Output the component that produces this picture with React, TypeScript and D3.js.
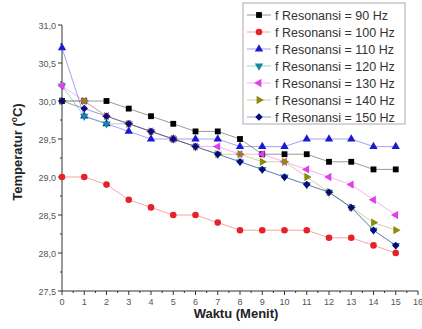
import React from 'react';
import * as d3 from 'd3';

const minutes = d3.range(0, 16);

const labels = [
  'f Resonansi = 90 Hz',
  'f Resonansi = 100 Hz',
  'f Resonansi = 110 Hz',
  'f Resonansi = 120 Hz',
  'f Resonansi = 130 Hz',
  'f Resonansi = 140 Hz',
  'f Resonansi = 150 Hz',
];

const hz90 = [30.0, 30.0, 30.0, 29.9, 29.8, 29.7, 29.6, 29.6, 29.5, 29.3, 29.3, 29.3, 29.2, 29.2, 29.1, 29.1];
const hz100 = [29.0, 29.0, 28.9, 28.7, 28.6, 28.5, 28.5, 28.4, 28.3, 28.3, 28.3, 28.3, 28.2, 28.2, 28.1, 28.0];
const hz110 = [30.7, 29.8, 29.7, 29.6, 29.5, 29.5, 29.5, 29.5, 29.4, 29.4, 29.4, 29.5, 29.5, 29.5, 29.4, 29.4];
const hz120 = [30.2, 29.8, 29.7, 29.7, 29.6, 29.5, 29.4, 29.3, 29.2, 29.1, 29.0, 28.9, 28.8, 28.6, 28.3, 28.1];
const hz130 = [30.2, 30.0, 29.8, 29.7, 29.6, 29.5, 29.4, 29.4, 29.3, 29.3, 29.2, 29.1, 29.0, 28.9, 28.7, 28.5];
const hz140 = [30.0, 30.0, 29.8, 29.7, 29.6, 29.5, 29.4, 29.3, 29.3, 29.2, 29.2, 29.0, 28.8, 28.6, 28.4, 28.3];
const hz150 = [30.0, 29.9, 29.8, 29.7, 29.6, 29.5, 29.4, 29.3, 29.2, 29.1, 29.0, 28.9, 28.8, 28.6, 28.3, 28.1];

const seriesValues = [hz90, hz100, hz110, hz120, hz130, hz140, hz150];
const colors = ['#000000', '#e8202a', '#1a1ad0', '#138a9a', '#e040e8', '#8a8a10', '#0a0a80'];

const yTicks = [27.5, 28.0, 28.5, 29.0, 29.5, 30.0, 30.5, 31.0];
const xTicks = d3.range(0, 17);

// marker shape per series: symbol type + rotation + area
const markers: [d3.SymbolType, number, number][] = [
  [d3.symbolSquare, 0, 34],
  [d3.symbolCircle, 0, 34],
  [d3.symbolTriangle, 0, 30],
  [d3.symbolTriangle, 180, 30],
  [d3.symbolTriangle, -90, 30],
  [d3.symbolTriangle, 90, 30],
  [d3.symbolSquare, 45, 28],
];

const W = 422;
const H = 329;
const margin = { top: 25, right: 4, bottom: 38, left: 62 };

export default function App() {
  const x = d3.scaleLinear().domain([0, 16]).range([margin.left, W - margin.right]);
  const y = d3.scaleLinear().domain([27.5, 31]).range([H - margin.bottom, margin.top]);

  const line = d3
    .line<number>()
    .x((_, i) => x(minutes[i]))
    .y((d) => y(d));

  const fmt = (v: number) => v.toFixed(1).replace('.', ',');
  const font = '"Liberation Sans", Arial, sans-serif';
  const y0 = y(27.5);

  return (
    <svg
      width={W}
      height={H}
      style={{ position: 'absolute', left: 0, top: 0, background: '#fff' }}
      fontFamily={font}
    >
      {/* axes */}
      <line x1={x(0)} x2={x(0)} y1={y(31)} y2={y0} stroke="#333" strokeWidth={1} />
      <line x1={x(0)} x2={x(16)} y1={y0} y2={y0} stroke="#333" strokeWidth={1} />

      {yTicks.map((t) => (
        <g key={'y' + t}>
          <line x1={x(0) - 4} x2={x(0)} y1={y(t)} y2={y(t)} stroke="#333" />
          <text x={x(0) - 6} y={y(t) + 3.5} fontSize={9} fill="#555" textAnchor="end">
            {fmt(t)}
          </text>
        </g>
      ))}
      {yTicks.slice(0, -1).map((t) => (
        <line key={'ym' + t} x1={x(0) - 2} x2={x(0)} y1={y(t + 0.25)} y2={y(t + 0.25)} stroke="#333" />
      ))}

      {xTicks.map((t) => (
        <g key={'x' + t}>
          <line x1={x(t)} x2={x(t)} y1={y0} y2={y0 + 4} stroke="#333" />
          <text x={x(t)} y={y0 + 14} fontSize={9} fill="#555" textAnchor="middle">
            {t}
          </text>
        </g>
      ))}
      {xTicks.slice(0, -1).map((t) => (
        <line key={'xm' + t} x1={x(t + 0.5)} x2={x(t + 0.5)} y1={y0} y2={y0 + 2} stroke="#333" />
      ))}

      <text x={x(8) - 4} y={318} fontSize={13} fontWeight="bold" fill="#222" textAnchor="middle">
        Waktu (Menit)
      </text>
      <text
        transform={`translate(22, 152) rotate(-90)`}
        fontSize={13}
        fontWeight="bold"
        fill="#222"
        textAnchor="middle"
      >
        Temperatur (
        <tspan fontSize={8.5} dy={-5}>o</tspan>
        <tspan dy={5}>C)</tspan>
      </text>

      {/* lines */}
      {seriesValues.map((vals, s) => (
        <path
          key={'l' + s}
          d={line(vals) || ''}
          fill="none"
          stroke={colors[s]}
          strokeOpacity={0.4}
          strokeWidth={1}
        />
      ))}

      {/* markers */}
      {seriesValues.map((vals, s) => {
        const [type, rot, size] = markers[s];
        const path = d3.symbol(type, size)() || '';
        return (
          <g key={'m' + s} fill={colors[s]}>
            {vals.map((v, i) => (
              <path
                key={i}
                d={path}
                transform={`translate(${x(minutes[i])}, ${y(v)}) rotate(${rot})`}
              />
            ))}
          </g>
        );
      })}

      {/* legend */}
      <rect x={243} y={3} width={162} height={121} fill="#fff" stroke="#aaa" strokeWidth={1} />
      {labels.map((lab, s) => {
        const [type, rot, size] = markers[s];
        const ly = 15 + s * 17;
        return (
          <g key={'lg' + s}>
            <line x1={247} x2={271} y1={ly} y2={ly} stroke={colors[s]} strokeOpacity={0.4} />
            <path
              d={d3.symbol(type, size)() || ''}
              transform={`translate(259, ${ly}) rotate(${rot})`}
              fill={colors[s]}
            />
            <text x={275} y={ly + 4.5} fontSize={12.5} fill="#333">
              {lab}
            </text>
          </g>
        );
      })}
    </svg>
  );
}
